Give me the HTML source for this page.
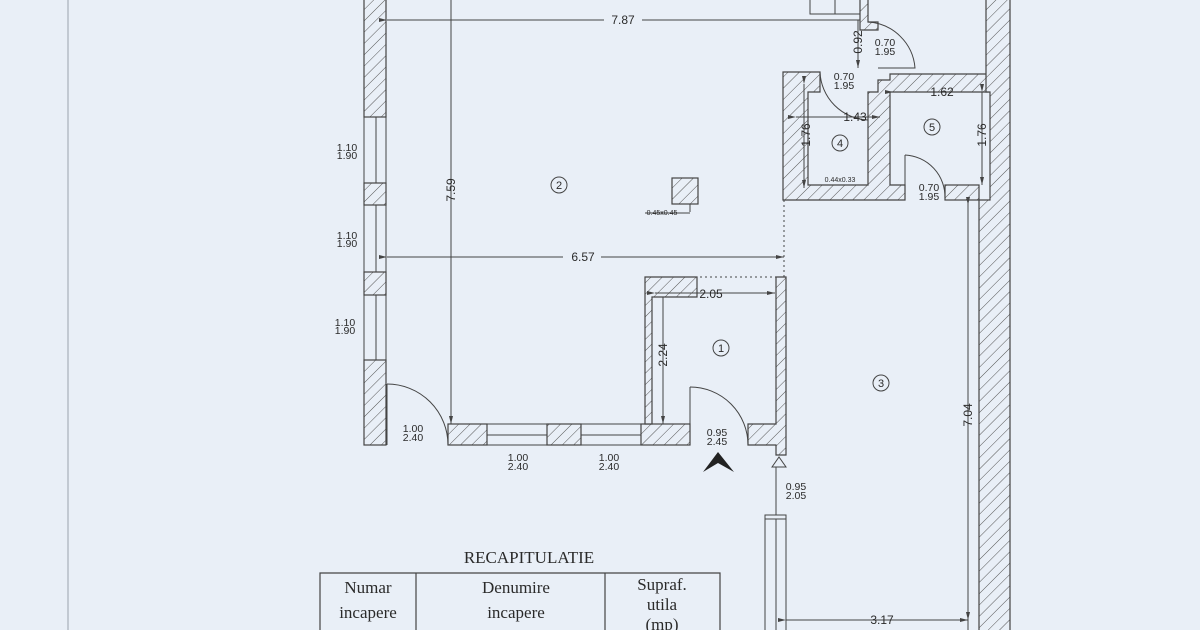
<!DOCTYPE html>
<html><head><meta charset="utf-8"><style>
html,body{margin:0;padding:0;background:#e9eff7;}
svg{display:block}
text{font-family:"Liberation Sans",sans-serif;fill:#2a2a2a}
</style></head><body>
<svg width="1200" height="630" viewBox="0 0 1200 630" xmlns="http://www.w3.org/2000/svg">
<defs>
<pattern id="h" width="8" height="8" patternUnits="userSpaceOnUse" patternTransform="rotate(45)">
<rect width="8" height="8" fill="#e9eff7"/><line x1="0" y1="0" x2="0" y2="8" stroke="#555" stroke-width="1"/>
</pattern>
<marker id="a" markerWidth="8" markerHeight="6" refX="8" refY="3" orient="auto"><path d="M0,1 L8,3 L0,5" fill="#444"/></marker>
</defs>
<rect width="1200" height="630" fill="#e9eff7"/>
<line x1="68" y1="0" x2="68" y2="630" stroke="#9aa3ad" stroke-width="1"/>
<g stroke="#444" stroke-width="1.2" fill="url(#h)">
<rect x="364" y="-2" width="22" height="119"/>
<rect x="364" y="183" width="22" height="22"/>
<rect x="364" y="272" width="22" height="23"/>
<rect x="364" y="360" width="22" height="85"/>
<rect x="448" y="424" width="39" height="21"/>
<rect x="547" y="424" width="34" height="21"/>
<rect x="641" y="424" width="49" height="21"/>
<path d="M748,424 H776 V277 H786 V455 H776 V445 H748 Z"/>
<path d="M645,277 H697 V297 H652 V424 H645 Z"/>
<path d="M783,72 H820 V92 H808 V185 H868 V92 H878 V80 H890 V74 H988 V92 H890 V185 H905 V200 H783 Z"/>
<rect x="945" y="185" width="34" height="15"/>
<path d="M986,-2 H1010 V632 H979 V200 H990 V92 H986 Z"/>
<rect x="672" y="178" width="26" height="26"/>
<path d="M860,-2 H868 V22 H878 V30 H860 Z"/>
</g>
<g stroke="#444" stroke-width="1" fill="none">
<rect x="364" y="117" width="22" height="66"/><line x1="376" y1="117" x2="376" y2="183"/>
<rect x="364" y="205" width="22" height="67"/><line x1="376" y1="205" x2="376" y2="272"/>
<rect x="364" y="295" width="22" height="65"/><line x1="376" y1="295" x2="376" y2="360"/>
<rect x="487" y="424" width="60" height="21"/><line x1="487" y1="435" x2="547" y2="435"/>
<rect x="581" y="424" width="60" height="21"/><line x1="581" y1="435" x2="641" y2="435"/>
<line x1="387" y1="384" x2="387" y2="445"/><path d="M387,384 A61,61 0 0 1 448,445"/>
<line x1="690" y1="387" x2="690" y2="445"/><path d="M690,387 A58,58 0 0 1 748,445"/>
<path d="M820,72 A50,50 0 0 0 868,120"/><line x1="868" y1="120" x2="868" y2="92"/>
<path d="M905,155 A42,42 0 0 1 945,198"/><line x1="905" y1="155" x2="905" y2="185"/>
<path d="M868,22 A50,50 0 0 1 915,68 H878"/>
<rect x="810" y="-2" width="50" height="16"/><line x1="835" y1="-2" x2="835" y2="14"/>
<line x1="695" y1="277" x2="776" y2="277" stroke-dasharray="2,3"/>
<line x1="784" y1="200" x2="784" y2="277" stroke-dasharray="2,3"/>
<path d="M772,467 L779,457 L786,467 Z"/>
<line x1="776" y1="467" x2="776" y2="515"/>
<rect x="765" y="515" width="21" height="120"/><line x1="776" y1="519" x2="776" y2="630"/><line x1="765" y1="519" x2="786" y2="519"/>
<line x1="968" y1="200" x2="968" y2="630"/>
<line x1="387" y1="20" x2="860" y2="20" marker-start="url(#a)"/>
<line x1="451" y1="0" x2="451" y2="424" marker-end="url(#a)"/>
<line x1="387" y1="257" x2="784" y2="257" marker-start="url(#a)" marker-end="url(#a)"/>
<line x1="655" y1="293" x2="775" y2="293" marker-start="url(#a)" marker-end="url(#a)"/>
<line x1="663" y1="297" x2="663" y2="424" marker-end="url(#a)"/>
<line x1="858" y1="20" x2="858" y2="68" marker-end="url(#a)"/>
<line x1="796" y1="117" x2="880" y2="117" marker-start="url(#a)" marker-end="url(#a)"/>
<line x1="804" y1="84" x2="804" y2="188" marker-start="url(#a)" marker-end="url(#a)"/>
<line x1="893" y1="92" x2="988" y2="92" marker-start="url(#a)"/>
<line x1="982" y1="92" x2="982" y2="185" marker-start="url(#a)" marker-end="url(#a)"/>
<line x1="968" y1="205" x2="968" y2="620" marker-start="url(#a)" marker-end="url(#a)"/>
<line x1="786" y1="620" x2="968" y2="620" marker-start="url(#a)" marker-end="url(#a)"/>
<line x1="690" y1="204" x2="690" y2="212"/><line x1="645" y1="213" x2="690" y2="213"/>
<circle cx="559" cy="185" r="8"/><circle cx="721" cy="348" r="8"/><circle cx="881" cy="383" r="8"/><circle cx="840" cy="143" r="8"/><circle cx="932" cy="127" r="8"/>
</g>
<path d="M703,472 L718,452 L734,472 L718,463 Z" fill="#222"/>
<g font-size="12" text-anchor="middle">
<rect x="604" y="13" width="38" height="14" fill="#e9eff7"/><text x="623" y="24">7.87</text>
<rect x="563" y="250" width="38" height="14" fill="#e9eff7"/><text x="583" y="261">6.57</text>
<text x="711" y="298">2.05</text>
<text x="855" y="121">1.43</text>
<text x="942" y="96">1.62</text>
<text x="882" y="624">3.17</text>
<text transform="translate(455,190) rotate(-90)">7.59</text>
<text transform="translate(667,355) rotate(-90)">2.24</text>
<text transform="translate(810,135) rotate(-90)">1.76</text>
<text transform="translate(986,135) rotate(-90)">1.76</text>
<text transform="translate(972,415) rotate(-90)">7.04</text>
<text transform="translate(862,42) rotate(-90)">0.92</text>
<text x="559" y="189" font-size="11">2</text><text x="721" y="352" font-size="11">1</text><text x="881" y="387" font-size="11">3</text><text x="840" y="147" font-size="11">4</text><text x="932" y="131" font-size="11">5</text>
</g>
<g font-size="10.5" text-anchor="middle">
<text x="347" y="151">1.10</text><text x="347" y="159">1.90</text>
<text x="347" y="239">1.10</text><text x="347" y="247">1.90</text>
<text x="345" y="326">1.10</text><text x="345" y="334">1.90</text>
<text x="413" y="432">1.00</text><text x="413" y="441">2.40</text>
<text x="518" y="461">1.00</text><text x="518" y="470">2.40</text>
<text x="609" y="461">1.00</text><text x="609" y="470">2.40</text>
<text x="717" y="436">0.95</text><text x="717" y="445">2.45</text>
<text x="796" y="490">0.95</text><text x="796" y="499">2.05</text>
<text x="885" y="46">0.70</text><text x="885" y="55">1.95</text>
<text x="844" y="80">0.70</text><text x="844" y="89">1.95</text>
<text x="929" y="191">0.70</text><text x="929" y="200">1.95</text>
<text x="662" y="215" font-size="7">0.45x0.45</text>
<text x="840" y="182" font-size="7">0.44x0.33</text>
</g>
<text x="529" y="563" font-size="17" text-anchor="middle" style="font-family:'Liberation Serif',serif">RECAPITULATIE</text>
<g stroke="#444" fill="none" stroke-width="1.2">
<path d="M320,632 V573 H720 V632 M416,573 V632 M605,573 V632"/>
</g>
<g font-size="17" text-anchor="middle">
<text x="368" y="593" style="font-family:'Liberation Serif',serif">Numar</text>
<text x="368" y="618" style="font-family:'Liberation Serif',serif">incapere</text>
<text x="516" y="593" style="font-family:'Liberation Serif',serif">Denumire</text>
<text x="516" y="618" style="font-family:'Liberation Serif',serif">incapere</text>
<text x="662" y="590" style="font-family:'Liberation Serif',serif">Supraf.</text>
<text x="662" y="610" style="font-family:'Liberation Serif',serif">utila</text>
<text x="662" y="630" style="font-family:'Liberation Serif',serif">(mp)</text>
</g>
</svg>
</body></html>
